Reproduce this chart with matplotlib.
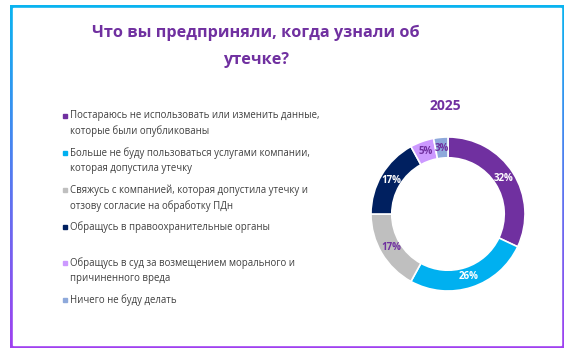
import numpy as np
import matplotlib
matplotlib.use('Agg')
import matplotlib.pyplot as plt

plt.rcParams['font.family'] = ['Open Sans', 'DejaVu Sans']

# data
year = '2025'
answers = ['Постараюсь не использовать или изменить данные,\nкоторые были опубликованы',
           'Больше не буду пользоваться услугами компании,\nкоторая допустила утечку',
           'Свяжусь с компанией, которая допустила утечку и\nотзову согласие на обработку ПДн',
           'Обращусь в правоохранительные органы',
           'Обращусь в суд за возмещением морального и\nпричиненного вреда',
           'Ничего не буду делать']
shares = [32, 26, 17, 17, 5, 3]
colors = ['#7030A0', '#00B0F0', '#BFBFBF', '#002060', '#CC99FF', '#8EA9DB']
label_colors = ['white', 'white', '#7030A0', 'white', '#7030A0', '#7030A0']

W, H = 573, 351
fig = plt.figure(figsize=(W / 100, H / 100), dpi=100)

# gradient frame
bg = fig.add_axes([0, 0, 1, 1])
bg.set_xlim(0, W)
bg.set_ylim(H, 0)
bg.axis('off')
grad = np.linspace(0, 1, 256).reshape(-1, 1)
top = np.array([0x0A, 0xB4, 0xF0]) / 255
bot = np.array([0xA0, 0x40, 0xF0]) / 255
img = top + (bot - top) * grad[..., None]
img = img.reshape(256, 1, 3)
bg.imshow(img, extent=[10, 564, 348, 5], aspect='auto', zorder=0)
bg.add_patch(plt.Rectangle((13, 8), 548, 337, color='white', zorder=1))

# title
fig.text(256 / W, 1 - 33 / H, 'Что вы предприняли, когда узнали об', ha='center', va='center',
         fontsize=11.7, fontweight='bold', color='#7030A0')
fig.text(256 / W, 1 - 60 / H, 'утечке?', ha='center', va='center',
         fontsize=11.7, fontweight='bold', color='#7030A0')

# legend
ys = [116, 153, 190, 227, 263, 300]
for txt, c, y in zip(answers, colors, ys):
    bg.add_patch(plt.Rectangle((62.5, y - 2), 4, 4, color=c, zorder=2))
    bg.text(70, y - 6, txt, ha='left', va='top', fontsize=6.95, color='#404040',
            linespacing=1.5, zorder=2)

# donut
cx, cy, r = 448, 214, 77
ax = fig.add_axes([(cx - r) / W, 1 - (cy + r) / H, 2 * r / W, 2 * r / H])
wedges, texts, autotexts = ax.pie(shares, colors=colors, startangle=90, counterclock=False,
                                  autopct='%d%%', pctdistance=0.86,
                                  wedgeprops=dict(width=0.27, edgecolor='white', linewidth=1.2))
for t, c in zip(autotexts, label_colors):
    t.set_color(c)
    t.set_fontsize(7)
    t.set_fontweight('bold')
ax.set_xlim(-1, 1)
ax.set_ylim(-1, 1)
ax.set_aspect('equal')

fig.text(445 / W, 1 - 106 / H, year, ha='center', va='center', fontsize=10,
         fontweight='bold', color='#7030A0')

fig.savefig('out.png', dpi=100)
